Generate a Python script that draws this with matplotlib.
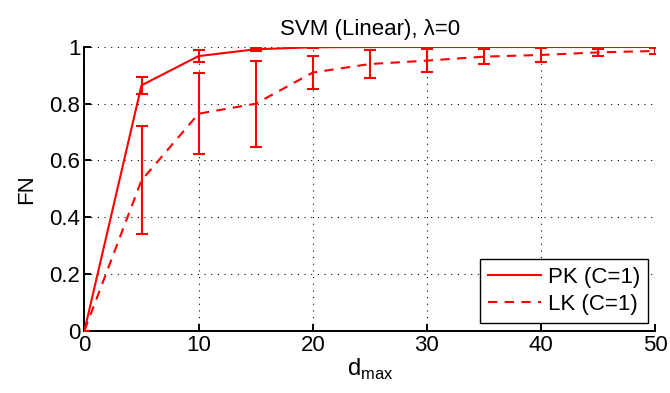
import matplotlib
matplotlib.use("Agg")
import matplotlib.pyplot as plt
from matplotlib.ticker import FixedLocator

plt.rcParams['font.family'] = ['Liberation Sans', 'DejaVu Sans']

d_max = [0, 5, 10, 15, 20, 25, 30, 35, 40, 45, 50]
pk_mean = [0, 0.865, 0.968, 0.992, 0.999, 1.0, 1.0, 1.0, 1.0, 1.0, 1.0]
pk_err = [0, 0.03, 0.02, 0.005, 0.001, 0, 0, 0, 0, 0, 0]
lk_mean = [0, 0.53, 0.765, 0.80, 0.91, 0.94, 0.952, 0.966, 0.972, 0.981, 0.986]
lk_err = [0, 0.19, 0.143, 0.152, 0.058, 0.048, 0.04, 0.027, 0.024, 0.012, 0.01]

yticks = [0, 0.2, 0.4, 0.6, 0.8, 1.0]
ytick_labels = ['0', '0.2', '0.4', '0.6', '0.8', '1']
xticks = [0, 10, 20, 30, 40, 50]

fig = plt.figure(figsize=(6.7, 3.93), dpi=100)
ax = fig.add_axes([0.126, 0.1585, 0.852, 0.7219])

red = (1, 0, 0)
ax.errorbar(d_max, pk_mean, yerr=pk_err, color=red, lw=1.5, capsize=4,
            capthick=1.5, elinewidth=1.5, zorder=3)
ax.errorbar(d_max, lk_mean, yerr=lk_err, color=red, lw=1.5, capsize=4,
            capthick=1.5, elinewidth=1.5, linestyle=(0, (4.5, 3.5)), zorder=3)
ax.plot([], [], color=red, lw=1.5, label='PK (C=1)')
ax.plot([], [], color=red, lw=1.5, linestyle=(0, (4.5, 3.5)), label='LK (C=1)')

ax.set_xlim(0, 50)
ax.set_ylim(0, 1)
ax.xaxis.set_major_locator(FixedLocator(xticks))
ax.set_yticks(yticks)
ax.set_yticklabels(ytick_labels)
ax.grid(True, color='black', linestyle=(0, (1, 5)), linewidth=0.8)

for s in ['top', 'right']:
    ax.spines[s].set_visible(False)
for s in ['left', 'bottom']:
    ax.spines[s].set_linewidth(1.4)
ax.tick_params(direction='in', length=5, width=1.4, labelsize=16, pad=3)
for lab in ax.get_xticklabels() + ax.get_yticklabels():
    lab.set_clip_on(False)

ax.set_title('SVM (Linear), λ=0', fontsize=16, pad=9)
ax.set_xlabel(r'd$_{\mathregular{max}}$', fontsize=17, labelpad=1)
ax.set_ylabel('FN', fontsize=16, labelpad=9)

leg = ax.legend(loc='lower right', bbox_to_anchor=(0.987, 0.027), borderaxespad=0,
                fontsize=16, fancybox=False, framealpha=1, edgecolor='black',
                handlelength=2.4, borderpad=0.35, labelspacing=0.3, handletextpad=0.3)
leg.get_frame().set_linewidth(1.0)

fig.savefig('out.png', dpi=100)
